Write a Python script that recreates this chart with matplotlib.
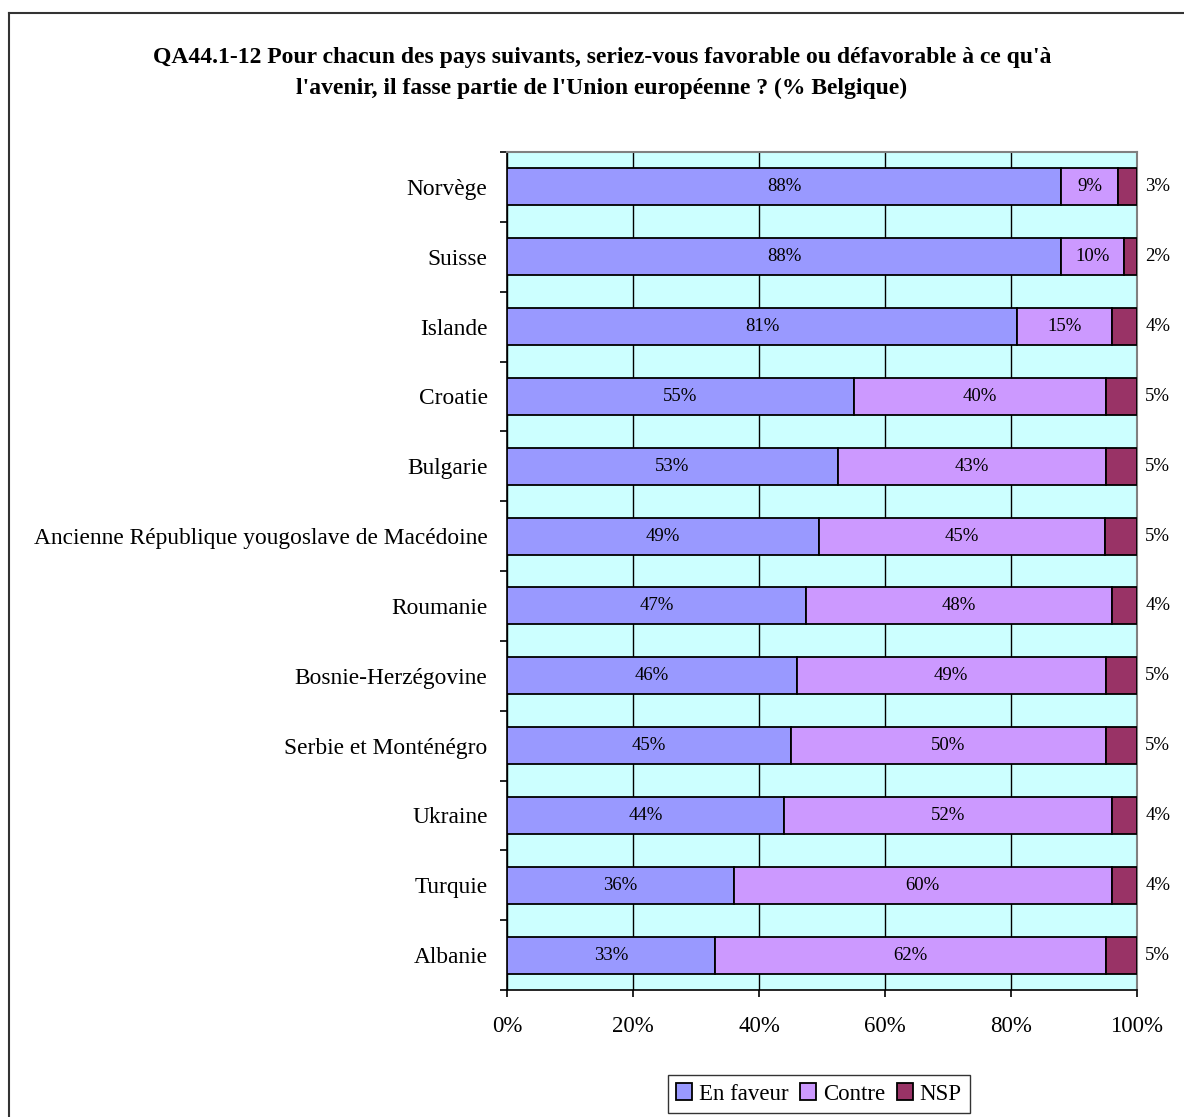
import matplotlib
matplotlib.use("Agg")
import matplotlib.pyplot as plt
import numpy as np
from matplotlib.lines import Line2D

plt.rcParams['font.family'] = ['Liberation Serif', 'DejaVu Serif']

# Data (% Belgique)
countries = ["Norvège", "Suisse", "Islande", "Croatie", "Bulgarie",
             "Ancienne République yougoslave de Macédoine", "Roumanie",
             "Bosnie-Herzégovine", "Serbie et Monténégro", "Ukraine",
             "Turquie", "Albanie"]
en_faveur = [88, 88, 81, 55, 53, 49, 47, 46, 45, 44, 36, 33]
contre = [9, 10, 15, 40, 43, 45, 48, 49, 50, 52, 60, 62]
nsp = [3, 2, 4, 5, 5, 5, 4, 5, 5, 4, 4, 5]

series_names = ["En faveur", "Contre", "NSP"]
colors = ["#9999FF", "#CC99FF", "#993366"]

title = ("QA44.1-12 Pour chacun des pays suivants, seriez-vous favorable ou défavorable à ce qu'à\n"
         "l'avenir, il fasse partie de l'Union européenne ? (% Belgique)")

# 100% stacked: normalise raw values
raw = np.array([en_faveur, contre, nsp], dtype=float)
share = raw / raw.sum(axis=0) * 100

fig = plt.figure(figsize=(11.84, 11.17), dpi=100)
ax = fig.add_axes([507 / 1184, 1 - 990 / 1117, 630 / 1184, 838 / 1117])
ax.set_facecolor("#CCFFFF")

y = np.arange(len(countries))
left = np.zeros(len(countries))
for k in range(3):
    ax.barh(y, share[k], left=left, height=0.53, color=colors[k],
            edgecolor="black", linewidth=1.3, label=series_names[k], zorder=3)
    for i in range(len(countries)):
        txt = f"{int(raw[k, i])}%"
        if k < 2:
            ax.text(left[i] + share[k, i] / 2, y[i], txt, ha="center", va="center",
                    fontsize=13.5, zorder=4)
        else:
            ax.text(103.3, y[i], txt, ha="center", va="center",
                    fontsize=13.5, clip_on=False)
    left += share[k]

ax.set_xlim(0, 100)
ax.set_ylim(len(countries) - 0.5, -0.5)
ax.set_xticks(np.arange(0, 101, 20))
ax.set_xticklabels([f"{v}%" for v in range(0, 101, 20)], fontsize=16.5)
ax.set_yticks(y)
ax.set_yticklabels(countries, fontsize=16.8)
ax.set_yticks(np.arange(-0.5, len(countries), 1), minor=True)
ax.tick_params(axis="y", which="major", length=0, pad=14)
ax.tick_params(axis="y", which="minor", length=5, width=1.2, direction="out")
ax.tick_params(axis="x", which="major", length=5, width=1.2, direction="out", pad=14)
ax.grid(axis="x", color="black", linewidth=1, zorder=1)
ax.set_axisbelow(True)

for s in ["top", "right"]:
    ax.spines[s].set_color("#808080")
    ax.spines[s].set_linewidth(1.5)
for s in ["left", "bottom"]:
    ax.spines[s].set_color("black")
    ax.spines[s].set_linewidth(1.2)

# two title lines placed separately to match spacing
title_lines = title.split("\n")
fig.text(602 / 1184, 1 - 57 / 1117, title_lines[0], ha="center", va="center",
         fontsize=17, fontweight="bold")
fig.text(602 / 1184, 1 - 88 / 1117, title_lines[1], ha="center", va="center",
         fontsize=17, fontweight="bold")

leg = ax.legend(loc="center", bbox_to_anchor=(819 / 1184, 1 - 1094 / 1117),
                bbox_transform=fig.transFigure, ncol=3, fontsize=16.5,
                frameon=True, fancybox=False, edgecolor="black",
                handlelength=0.7, handleheight=0.7, handletextpad=0.3,
                columnspacing=0.5, borderpad=0.35)
leg.get_frame().set_linewidth(1.0)

# outer border (top and left visible)
fig.add_artist(Line2D([9 / 1184, 1], [1 - 13 / 1117, 1 - 13 / 1117],
                      transform=fig.transFigure, color="#333333", linewidth=1.5))
fig.add_artist(Line2D([9 / 1184, 9 / 1184], [0, 1 - 13 / 1117],
                      transform=fig.transFigure, color="#333333", linewidth=1.5))

fig.savefig("out.png", dpi=100)
